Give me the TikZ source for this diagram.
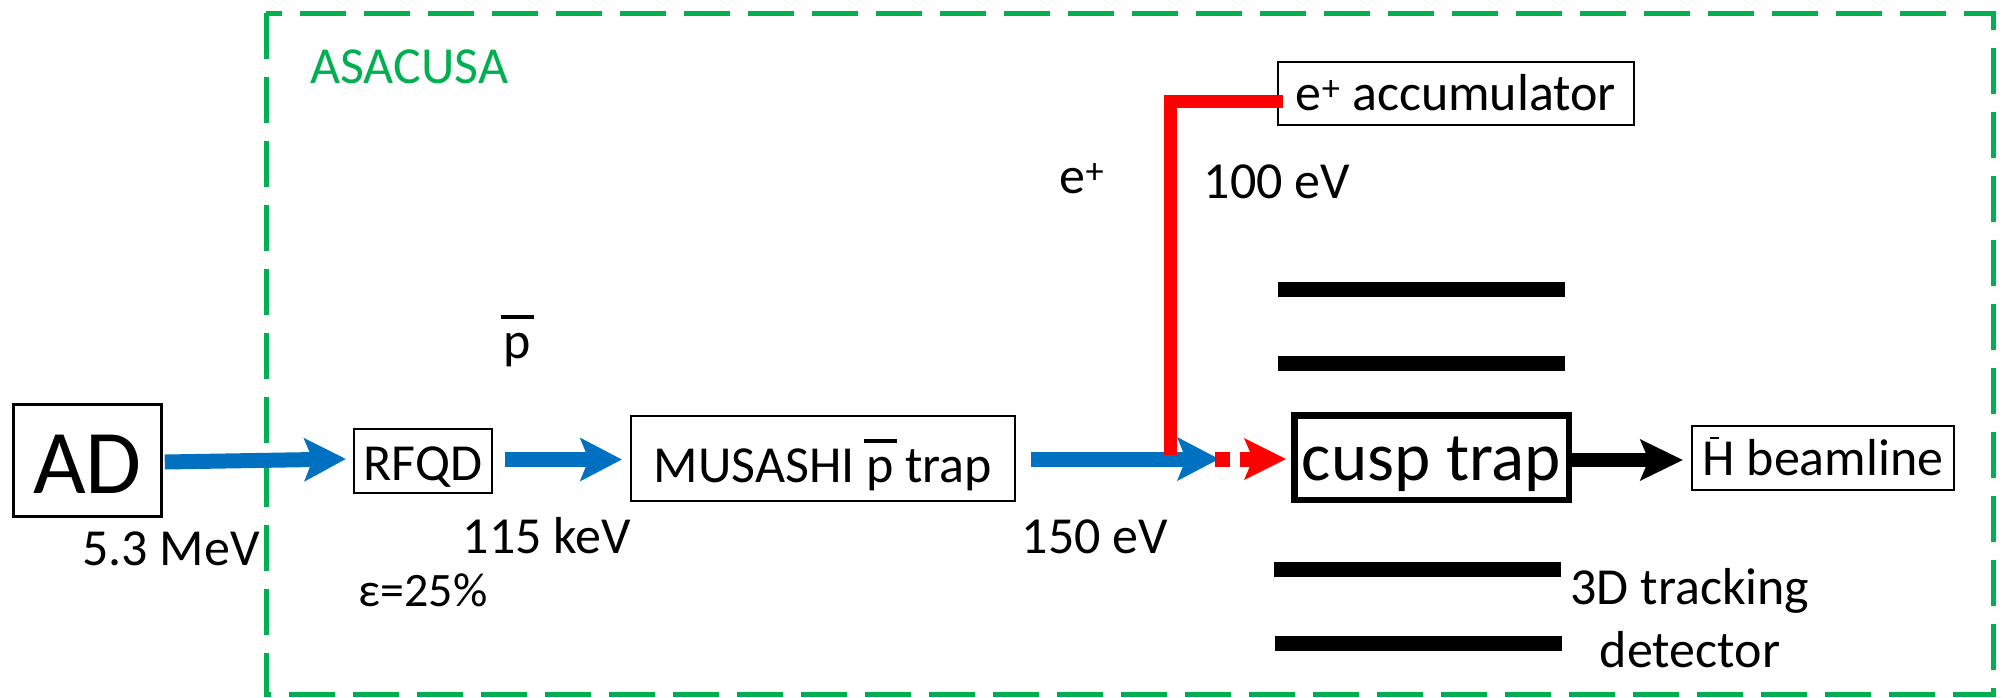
\documentclass[tikz,border=0pt]{standalone}
\usepackage{fontspec}
\setmainfont{Carlito}
\usetikzlibrary{arrows.meta,calc}
\definecolor{asagreen}{RGB}{0,176,80}
\definecolor{beamblue}{RGB}{0,112,192}
\definecolor{posred}{RGB}{255,0,0}
\newcommand\pbarsym{\leavevmode\rlap{\hspace{-0.05em}\rule[0.75em]{0.64em}{0.07em}}p}
\newcommand\hbarsym{\leavevmode\rlap{\hspace{0.15em}\rule[0.69em]{0.16em}{0.04em}}H}
\newcommand\txtfont{\fontsize{52}{63}\selectfont}
\newcommand\epsfont{\fontsize{48}{58}\selectfont}
\newcommand\adfont{\fontsize{91}{100}\selectfont}
\newcommand\cuspfont{\fontsize{69}{80}\selectfont}
\begin{document}
\begin{tikzpicture}[x=1pt,y=-1pt,
  box/.style={draw=black, line width=2.5pt, inner sep=0pt, text depth=0pt, font=\txtfont},
  lbl/.style={inner sep=0pt, anchor=base, font=\txtfont},
  bluearrow/.style={draw=beamblue, line width=15pt, -{Stealth[length=42pt,width=44pt,inset=9pt,line width=0pt]}},
  redarrow/.style={draw=posred, line width=15pt, -{Stealth[length=42pt,width=42pt,inset=9pt,line width=0pt]}},
  blackarrow/.style={draw=black, line width=14pt, -{Stealth[length=43pt,width=42pt,inset=9pt,line width=0pt]}},
  redline/.style={draw=posred, line width=13pt, line join=miter},
  detbar/.style={draw=black, line width=15pt},
  asabox/.style={draw=asagreen, line width=5pt, dash pattern=on 46pt off 18pt}
]
\useasboundingbox (0,0) rectangle (2004,697);

% ASACUSA frame
\draw[asabox] (266,13) rectangle (1993,694);
\node[inner sep=0pt, anchor=base west, font=\txtfont, text=asagreen] (asacusa) at (310,83) {ASACUSA};

% boxes
\node[box, minimum width=148pt, minimum height=112pt, text height=65pt, font=\adfont] (AD) at (87.5,460.5) {AD};
\node[box, minimum width=138pt, minimum height=64pt, text height=38pt] (RFQD) at (423,461) {RFQD};
\node[box, minimum width=384pt, minimum height=85pt, text height=47pt] (MUS) at (823,458.5) {MUSASHI \pbarsym{} trap};
\node[box, minimum width=356pt, minimum height=63pt, text height=33pt] (acc) at (1456,93.5) {e\textsuperscript{+} accumulator};
\node[box, line width=6.5pt, minimum width=274.5pt, minimum height=84.5pt, text height=45pt, font=\cuspfont] (cusp) at (1431.5,457.5) {cusp trap};
\node[box, minimum width=262pt, minimum height=64pt, text height=34pt] (Hbar) at (1823,458) {\hbarsym{} beamline};

% detector bars
\draw[detbar] (1278,289.5) -- (1565,289.5);
\draw[detbar] (1278,363.5) -- (1565,363.5);
\draw[detbar] (1274,569.5) -- (1561,569.5);
\draw[detbar] (1275,643.5) -- (1562,643.5);

% labels
\node[lbl] (e53) at (171,565) {5.3 MeV};
\node[lbl] (e115) at (547,553) {115 keV};
\node[lbl, font=\epsfont] (eff) at (423,606) {ε=25\%};
\node[lbl] (pbarlbl) at (517,358) {\pbarsym};
\node[lbl] (e150) at (1095,553) {150 eV};
\node[lbl] (eplbl) at (1082,193) {e\textsuperscript{+}};
\node[lbl] (e100) at (1277,198) {100 eV};
\node[lbl] (det1) at (1690,604) {3D tracking};
\node[lbl] (det2) at (1690,667) {detector};

% antiproton beam
\draw[bluearrow] ($(AD.east)+(2,1.5)$) -- ($(RFQD.west)+(-7,-2)$);
\draw[bluearrow] ($(RFQD.east)+(12,-1.5)$) -- ($(MUS.west)+(-8,1)$);
\draw[bluearrow] ($(MUS.east)+(15,0.5)$) -- ($(cusp.west)+(-72,1.5)$);

% positron line
\coordinate (ejoin) at ($(cusp.west)+(-121,-2.5)$);
\draw[redline] (ejoin) |- ($(acc.west)+(6,8)$);
\fill[posred] ($(cusp.west)+(-76,-5.5)$) rectangle ($(cusp.west)+(-61,9.5)$);
\draw[redarrow] ($(cusp.west)+(-51,1.5)$) -- ($(cusp.west)+(-5,1.5)$);

% antihydrogen beam
\draw[blackarrow] ($(cusp.east)+(0,2.5)$) -- ($(Hbar.west)+(-8,2)$);
\end{tikzpicture}
\end{document}
